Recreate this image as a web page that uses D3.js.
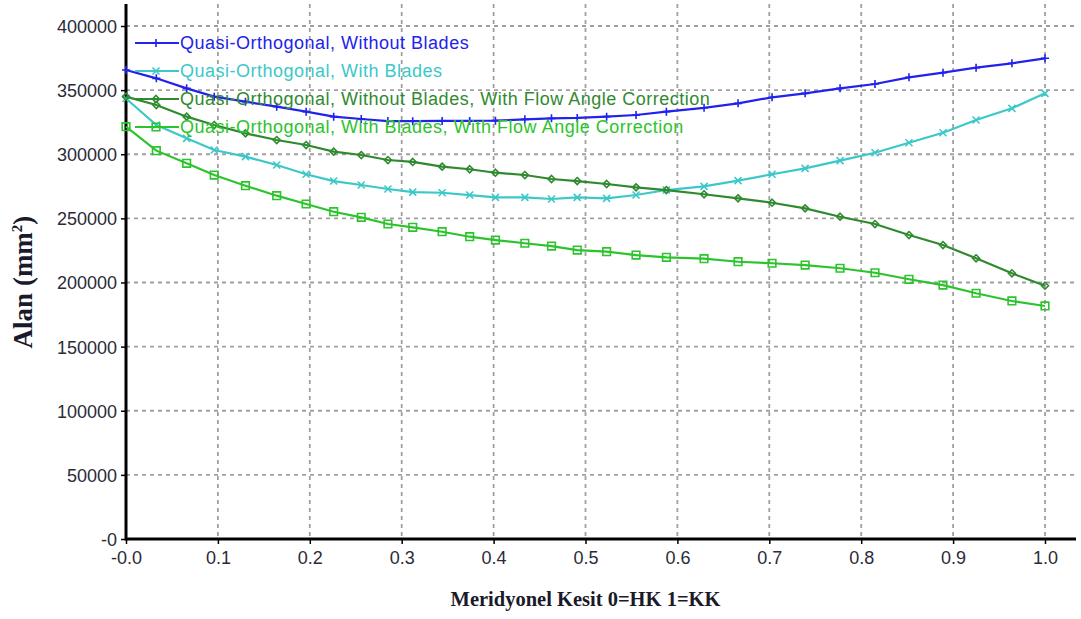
<!DOCTYPE html>
<html><head><meta charset="utf-8">
<script src="https://cdn.jsdelivr.net/npm/d3@7"></script>
<style>
html,body{margin:0;padding:0;background:#fff;}
svg{display:block;}
</style></head>
<body>
<svg id="chart" width="1081" height="619"></svg>
<script>
const xPos = [0.0,0.033,0.066,0.096,0.130,0.164,0.196,0.226,0.256,0.285,0.312,0.344,0.374,0.402,0.434,0.463,0.491,0.523,0.555,0.588,0.629,0.666,0.703,0.739,0.777,0.815,0.852,0.889,0.925,0.964,1.0];
const quasiWithoutBlades = [365700,359200,351400,344900,341000,337100,333200,329300,327500,325900,325800,326000,326000,326200,327200,328000,328300,329300,330600,333200,336200,339700,344400,347500,351400,354800,360000,363600,367500,370900,374800];
const quasiWithBlades = [343500,322800,312400,303300,298100,291600,284400,279100,276000,272900,270500,270000,268200,266400,266400,265100,266400,265600,268200,272100,275000,279400,284400,289000,295000,301200,309000,316800,326700,335800,347500];
const quasiWithoutBladesFAC = [344900,338400,329300,322800,316300,311100,307200,302000,299400,295500,294000,290300,288300,285600,283800,280700,279100,276800,274200,272100,268800,265600,262200,257800,251300,245600,237000,229200,218900,207200,197500];
const quasiWithBladesFAC = [321500,302800,292900,283800,275500,267700,261200,255200,250800,245600,243000,239600,235700,233100,230600,228400,225300,224000,221400,219600,218600,216200,215000,213600,211100,207600,202500,198000,191600,185600,181700];
const seriesNames = ["Quasi-Orthogonal, Without Blades","Quasi-Orthogonal, With Blades","Quasi-Orthogonal, Without Blades, With Flow Angle Correction","Quasi-Orthogonal, With Blades, With Flow Angle Correction"];
const xTickValues = [0,0.1,0.2,0.3,0.4,0.5,0.6,0.7,0.8,0.9,1.0];
const xTickLabels = ["-0.0","0.1","0.2","0.3","0.4","0.5","0.6","0.7","0.8","0.9","1.0"];
const yTickValues = [0,50000,100000,150000,200000,250000,300000,350000,400000];
const yTickLabels = ["-0","50000","100000","150000","200000","250000","300000","350000","400000"];
const xTitle = "Meridyonel Kesit 0=HK 1=KK";
const yTitle = "Alan (mm";

const colors = ["#2222ee","#3cc8c8","#2f8a2f","#2cc42c"];
const markers = ["plus","cross","diamond","square"];
const seriesValues = [quasiWithoutBlades, quasiWithBlades, quasiWithoutBladesFAC, quasiWithBladesFAC];

const svg = d3.select("#chart");
const pLeft = 126, pRight = 1076, pTop = 4, pBottom = 539;
const x = d3.scaleLinear().domain([0,1]).range([pLeft,1045]);
const y = d3.scaleLinear().domain([0,400000]).range([pBottom,26]);

// grid
const grid = svg.append("g");
grid.selectAll("line.v").data(xTickValues.slice(1)).enter().append("line")
  .attr("x1",d=>x(d)).attr("x2",d=>x(d)).attr("y1",pTop).attr("y2",pBottom)
  .attr("stroke","#a0a0a0").attr("stroke-width",1.8).attr("stroke-dasharray","4,4");
grid.selectAll("line.h").data(yTickValues.slice(1)).enter().append("line")
  .attr("x1",pLeft).attr("x2",pRight).attr("y1",d=>y(d)).attr("y2",d=>y(d))
  .attr("stroke","#a0a0a0").attr("stroke-width",1.8).attr("stroke-dasharray","4,4");

// axes
const xAxis = d3.axisBottom(x).tickValues(xTickValues).tickFormat((d,i)=>xTickLabels[i]).tickSize(5).tickSizeOuter(0);
const yAxis = d3.axisLeft(y).tickValues(yTickValues).tickFormat((d,i)=>yTickLabels[i]).tickSize(5).tickSizeOuter(0);
const gx = svg.append("g").attr("transform",`translate(0,${pBottom})`).call(xAxis);
const gy = svg.append("g").attr("transform",`translate(${pLeft},0)`).call(yAxis);
gx.select(".domain").remove(); gy.select(".domain").remove();
svg.append("line").attr("x1",pLeft).attr("x2",pRight).attr("y1",pBottom).attr("y2",pBottom).attr("stroke","#000").attr("stroke-width",3);
svg.append("line").attr("x1",pLeft).attr("x2",pLeft).attr("y1",pTop).attr("y2",pBottom+1.5).attr("stroke","#000").attr("stroke-width",3);
[gx,gy].forEach(g=>{
  g.selectAll(".tick line").attr("stroke","#000").attr("stroke-width",1.5);
  g.selectAll(".tick text").attr("font-family","'Liberation Sans', Arial, sans-serif").attr("font-size",18).attr("fill","#2b2b38");
});
gx.selectAll(".tick text").attr("dy","0.95em");
gy.selectAll(".tick text").attr("dx","-1").attr("dy","0.36em");

// titles
svg.append("text").attr("x",(x(0)+x(1))/2).attr("y",606).attr("text-anchor","middle")
  .attr("font-family","'Liberation Serif', 'Times New Roman', serif").attr("font-weight","bold").attr("font-size",20.5).attr("fill","#1a1a2a").text(xTitle);
const yt = svg.append("text").attr("transform","translate(32,282) rotate(-90)").attr("text-anchor","middle")
  .attr("font-family","'Liberation Serif', 'Times New Roman', serif").attr("font-weight","bold").attr("font-size",27).attr("fill","#1a1a2a");
yt.append("tspan").text(yTitle);
yt.append("tspan").attr("font-size",15).attr("dy","-10").text("2");
yt.append("tspan").attr("dy","10").text(")");

function markerPath(type){
  switch(type){
    case "plus": return "M-4,0H4M0,-4V4";
    case "cross": return "M-3.5,-3.5L3.5,3.5M-3.5,3.5L3.5,-3.5";
    case "diamond": return "M0,-3.5L3.5,0L0,3.5L-3.5,0Z";
    case "square": return "M-3.8,-3.8H3.8V3.8H-3.8Z";
  }
}

const line = d3.line().x(d=>x(d[0])).y(d=>y(d[1]));
seriesValues.forEach((vals,si)=>{
  const pts = vals.map((v,i)=>[xPos[i],v]);
  const g = svg.append("g");
  g.append("path").datum(pts).attr("d",line).attr("fill","none").attr("stroke",colors[si]).attr("stroke-width",2.2);
  g.selectAll("path.m").data(pts).enter().append("path")
    .attr("transform",d=>`translate(${x(d[0])},${y(d[1])})`)
    .attr("d",markerPath(markers[si])).attr("fill","none").attr("stroke",colors[si]).attr("stroke-width",1.6);
});

// legend
const leg = svg.append("g");
seriesNames.forEach((name,i)=>{
  const ly = 43 + i*28;
  leg.append("line").attr("x1",135).attr("x2",179).attr("y1",ly).attr("y2",ly).attr("stroke",colors[i]).attr("stroke-width",2.2);
  leg.append("path").attr("transform",`translate(156,${ly})`).attr("d",markerPath(markers[i])).attr("fill","none").attr("stroke",colors[i]).attr("stroke-width",1.6);
  leg.append("text").attr("x",180).attr("y",ly+6).attr("font-family","'Liberation Sans', Arial, sans-serif").attr("font-size",18)
    .attr("letter-spacing","0.5px").attr("fill",colors[i]).text(name);
});
</script>
</body></html>
